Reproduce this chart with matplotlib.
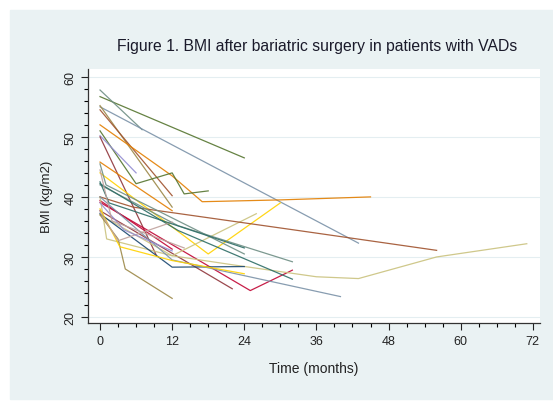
import matplotlib
matplotlib.use("Agg")
import matplotlib.pyplot as plt
from matplotlib.patches import Rectangle
from matplotlib.ticker import MultipleLocator

plt.rcParams["font.family"] = ["Liberation Sans", "DejaVu Sans"]

# Stata s2color palette
palette = {
    "navy": "#1a476f", "maroon": "#90353b", "forest_green": "#55752f",
    "dkorange": "#e37e00", "teal": "#6e8e84", "cranberry": "#c10534",
    "lavender": "#938dd2", "khaki": "#cac27e", "sienna": "#a0522d",
    "emidblue": "#7b92a8", "emerald": "#2d6d66", "brown": "#9c8847",
    "erose": "#bfa19c", "gold": "#ffd200",
}

# one entry per patient: months, BMI, colour
patients = [
    ([0, 24], [56.7, 46.5], "forest_green"),
    ([0, 7], [57.8, 51.2], "teal"),
    ([0, 43], [55.0, 32.3], "emidblue"),
    ([0, 12], [55.2, 38.3], "brown"),
    ([0, 12], [54.5, 40.2], "sienna"),
    ([0, 12, 17, 30, 45], [52.0, 43.5, 39.2, 39.5, 40.0], "dkorange"),
    ([0, 6, 12, 14, 18], [51.0, 42.2, 44.0, 40.5, 41.0], "forest_green"),
    ([0, 6], [50.2, 44.0], "lavender"),
    ([0, 9.4], [50.0, 30.2], "maroon"),
    ([0, 12], [45.8, 37.7], "dkorange"),
    ([0, 18, 30], [44.0, 30.5, 39.0], "gold"),
    ([0, 25, 32], [39.1, 24.4, 27.8], "cranberry"),
    ([0, 12], [39.4, 31.3], "cranberry"),
    ([0, 22], [37.7, 24.7], "maroon"),
    ([0, 1.1, 12, 22, 36, 43, 56, 71], [40.0, 33.0, 30.2, 28.7, 26.7, 26.4, 30.0, 32.2], "khaki"),
    ([0, 12, 26], [37.0, 30.2, 37.2], "khaki"),
    ([0, 5.5, 33, 56], [40.0, 38.3, 34.4, 31.1], "sienna"),
    ([0, 13, 32], [42.0, 35.2, 29.2], "teal"),
    ([0, 13, 32], [42.2, 34.4, 26.3], "emerald"),
    ([0, 12, 24], [37.2, 28.3, 28.4], "navy"),
    ([0, 12, 40], [40.0, 29.5, 23.4], "emidblue"),
    ([0, 3, 4.2, 12], [37.0, 33.0, 28.0, 23.1], "brown"),
    ([0, 3.3, 12, 24], [38.0, 31.7, 29.4, 27.2], "gold"),
    ([0, 3, 12], [37.5, 32.7, 35.8], "erose"),
    ([0, 1, 24], [45.5, 42.0, 30.5], "teal"),
    ([0, 4, 12], [39.0, 34.5, 31.0], "lavender"),
    ([0, 1.5, 24], [42.5, 39.0, 31.5], "emerald"),
    ([0, 2, 14], [44.5, 36.0, 31.5], "erose"),
]

x_ticks = [0, 12, 24, 36, 48, 60, 72]
y_ticks = [20, 30, 40, 50, 60]

fig = plt.figure(figsize=(5.53, 4.02), dpi=100)
fig.patch.set_facecolor("white")
bg = Rectangle((10 / 553, 2 / 402), 1, 389 / 402, transform=fig.transFigure,
               color="#eaf2f3", zorder=-10)
fig.add_artist(bg)

ax = fig.add_axes([88 / 553, 78 / 402, 452 / 553, 254 / 402])
ax.set_facecolor("white")

for months, bmi, col in patients:
    ax.plot(months, bmi, color=palette[col], lw=0.9, alpha=0.9)

ax.set_xlim(-2, 73.2)
ax.set_ylim(19, 61.3)
ax.set_xticks(x_ticks)
ax.set_yticks(y_ticks)
ax.xaxis.set_minor_locator(MultipleLocator(3))
ax.yaxis.set_minor_locator(MultipleLocator(2))
ax.tick_params(axis="both", which="major", direction="out", length=5, width=0.8,
               labelsize=9, colors="#222222")
ax.tick_params(axis="both", which="minor", direction="out", length=3, width=0.8)
for lab in ax.get_yticklabels():
    lab.set_rotation(90)
    lab.set_va("center")
ax.grid(axis="y", which="major", color="#e4eef1", lw=0.8)
ax.set_axisbelow(True)

for side in ("top", "right"):
    ax.spines[side].set_visible(False)
for side in ("left", "bottom"):
    ax.spines[side].set_color("#333333")
    ax.spines[side].set_linewidth(0.9)

ax.set_xlabel("Time (months)", fontsize=10, color="#222222", labelpad=10)
ax.set_ylabel("BMI (kg/m2)", fontsize=9.5, color="#222222", labelpad=8)
fig.text(317 / 553, 1 - 47 / 402, "Figure 1. BMI after bariatric surgery in patients with VADs",
         ha="center", va="center", fontsize=11.3, color="#1a1a2a")

fig.savefig("out.png", dpi=100)
plt.close(fig)
